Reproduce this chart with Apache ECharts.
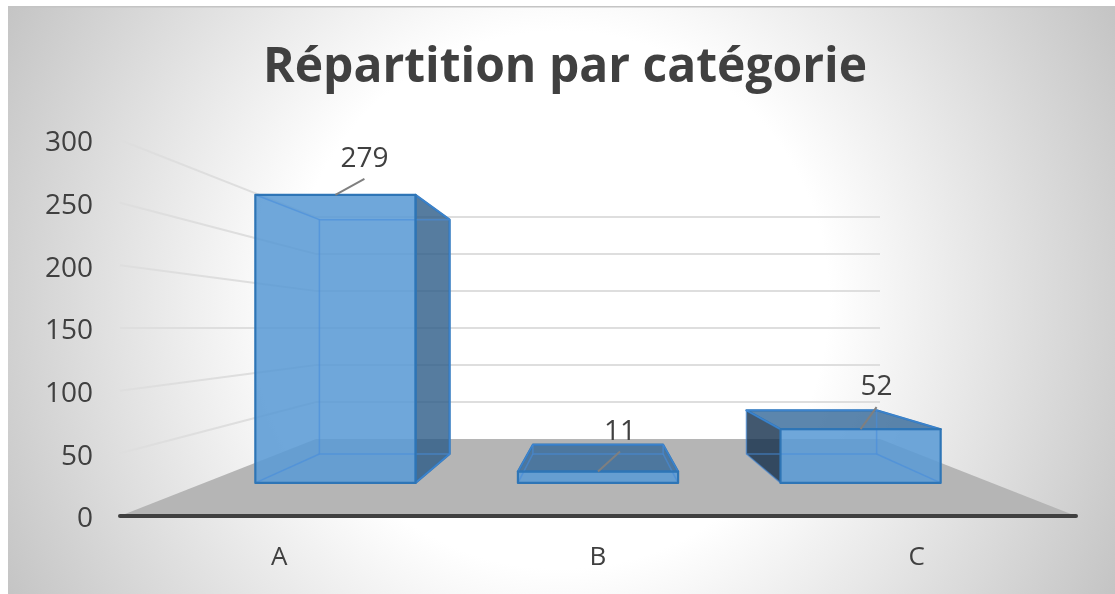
<!DOCTYPE html>
<html>
<head>
<meta charset="utf-8">
<style>
  html, body { margin: 0; padding: 0; background: #fff; }
  #chart { width: 1115px; height: 594px; }
</style>
</head>
<body>
<div id="chart"></div>
<script src="https://cdn.jsdelivr.net/npm/echarts@6/dist/echarts.min.js"></script>
<script>
const categories = ['A', 'B', 'C'];
const values = [279, 11, 52];
const yTicks = [0, 50, 100, 150, 200, 250, 300];
const chartTitle = 'Répartition par catégorie';

// perspective: how far things shrink toward the vanishing point
const BAR_NEAR = 0.824;
const BAR_FAR = 0.67;
const WALL_BACK = 0.59;
const EYE_VALUE = 150;
const BAR_SHARE = 0.61;
// label leader lines, relative to the middle of the bar's front top edge
const leaderOffsets = [[29, -16], [22, -20], [16, -22]];

const FONT = '"Open Sans", "Noto Sans", sans-serif';
const TEXT_COLOR = '#404040';

function makeProject(api, params) {
    const cs = params.coordSys;
    const vx = cs.x + cs.width / 2;
    const vy = api.coord([0, EYE_VALUE])[1];
    return {
        vx: vx,
        at(px, value, s) {
            const py = api.coord([0, value])[1];
            return [vx + (px - vx) * s, vy + (py - vy) * s];
        }
    };
}

function poly(points, fill, stroke, width) {
    return {
        type: 'polygon',
        shape: { points: points },
        style: { fill: fill, stroke: stroke || null, lineWidth: width || 0, lineJoin: 'round' }
    };
}

function line(a, b, color, width) {
    return {
        type: 'polyline',
        shape: { points: [a, b] },
        style: { fill: null, stroke: color, lineWidth: width }
    };
}

function renderFloor(params, api) {
    const cs = params.coordSys;
    const p = makeProject(api, params);
    const left = cs.x, right = cs.x + cs.width;
    return poly([
        p.at(left, 0, 1), p.at(right, 0, 1), p.at(right, 0, WALL_BACK), p.at(left, 0, WALL_BACK)
    ], '#b5b5b5');
}

function renderGridLine(params, api) {
    const cs = params.coordSys;
    const p = makeProject(api, params);
    const v = api.value(0);
    if (v === 0) return null;
    const corner = p.at(cs.x, v, WALL_BACK);
    return {
        type: 'group',
        children: [
            line(p.at(cs.x, v, 1), corner, '#dedede', 2),
            line(corner, p.at(cs.x + cs.width, v, WALL_BACK), '#dedede', 2)
        ]
    };
}

function renderBar(params, api) {
    const p = makeProject(api, params);
    const v = api.value(1);
    const center = api.coord([api.value(0), 0])[0];
    const half = api.size([1, 0])[0] * BAR_SHARE / 2;
    const l = center - half, r = center + half;

    const nlt = p.at(l, v, BAR_NEAR), nrt = p.at(r, v, BAR_NEAR);
    const nlb = p.at(l, 0, BAR_NEAR), nrb = p.at(r, 0, BAR_NEAR);
    const flt = p.at(l, v, BAR_FAR), frt = p.at(r, v, BAR_FAR);
    const flb = p.at(l, 0, BAR_FAR), frb = p.at(r, 0, BAR_FAR);

    const EDGE = '#2e75b6';
    const INNER = 'rgba(70,140,220,0.6)';
    const kids = [];

    if (r < p.vx) {
        kids.push(poly([nrt, frt, frb, nrb], 'rgba(44,91,135,0.8)', EDGE, 2.2));
    }
    if (l > p.vx) {
        kids.push(poly([nlt, flt, flb, nlb], 'rgba(19,46,75,0.8)'));
    }
    if (v < EYE_VALUE) {
        kids.push(poly([nlt, nrt, frt, flt], 'rgba(51,104,152,0.8)', EDGE, 2.2));
    }
    kids.push(poly([nlt, nrt, nrb, nlb], 'rgba(91,155,213,0.88)'));

    // edges seen through the front face
    kids.push(poly([flt, frt, frb, flb], 'rgba(0,0,0,0)', INNER, 1.5));
    kids.push(line(nlb, flb, INNER, 1.5), line(nrb, frb, INNER, 1.5));
    kids.push(line(nlt, flt, INNER, 1.5), line(nrt, frt, INNER, 1.5));
    kids.push(poly([nlt, nrt, nrb, nlb], 'rgba(0,0,0,0)', EDGE, 2.2));

    // data label with its leader line
    const off = leaderOffsets[params.dataIndex];
    const start = [(nlt[0] + nrt[0]) / 2, nlt[1]];
    const end = [start[0] + off[0], start[1] + off[1]];
    kids.push(line(start, end, '#7f7f7f', 2));
    kids.push({
        type: 'text',
        style: {
            x: end[0], y: end[1] - 6,
            text: String(v),
            fill: TEXT_COLOR,
            font: '28px ' + FONT,
            textAlign: 'center',
            textVerticalAlign: 'bottom'
        }
    });
    return { type: 'group', children: kids };
}

const chart = echarts.init(document.getElementById('chart'));
chart.setOption({
    animation: false,
    backgroundColor: '#fff',
    graphic: [
        {
            type: 'rect',
            z: -10,
            silent: true,
            shape: { x: 8, y: 6, width: 1107, height: 588 },
            style: {
                fill: new echarts.graphic.RadialGradient(560, 300, 640, [
                    { offset: 0, color: '#ffffff' },
                    { offset: 0.42, color: '#ffffff' },
                    { offset: 1, color: '#c2c2c2' }
                ], true),
                stroke: null
            }
        },
        {
            type: 'rect',
            z: -9,
            silent: true,
            shape: { x: 8, y: 6, width: 1107, height: 1.5 },
            style: { fill: '#c4c4c4' }
        }
    ],
    title: {
        text: chartTitle,
        left: 560,
        top: 39,
        textAlign: 'center',
        textStyle: { fontFamily: FONT, fontSize: 48, fontWeight: 'bold', color: TEXT_COLOR }
    },
    grid: { left: 120, right: 39, top: 140, bottom: 78 },
    xAxis: {
        type: 'category',
        data: categories,
        z: 10,
        axisLine: { lineStyle: { color: '#404040', width: 4, cap: 'round' } },
        axisTick: { show: false },
        axisLabel: { fontFamily: FONT, fontSize: 26, color: TEXT_COLOR, margin: 29 }
    },
    yAxis: {
        type: 'value',
        min: 0,
        max: 300,
        interval: 50,
        axisLine: { show: false },
        axisTick: { show: false },
        splitLine: { show: false },
        axisLabel: { fontFamily: FONT, fontSize: 28, color: TEXT_COLOR, margin: 27, verticalAlign: 'top', lineHeight: 7 }
    },
    series: [
        {
            type: 'custom',
            name: 'floor',
            renderItem: renderFloor,
            data: [[0, 0]],
            clip: false,
            silent: true,
            z: 1
        },
        {
            type: 'custom',
            name: 'gridlines',
            renderItem: renderGridLine,
            data: yTicks,
            encode: { y: 0 },
            clip: false,
            silent: true,
            z: 2
        },
        {
            type: 'custom',
            name: 'bars',
            renderItem: renderBar,
            data: values.map((v, i) => [i, v]),
            encode: { x: 0, y: 1 },
            clip: false,
            z: 3
        }
    ]
});
</script>
</body>
</html>
